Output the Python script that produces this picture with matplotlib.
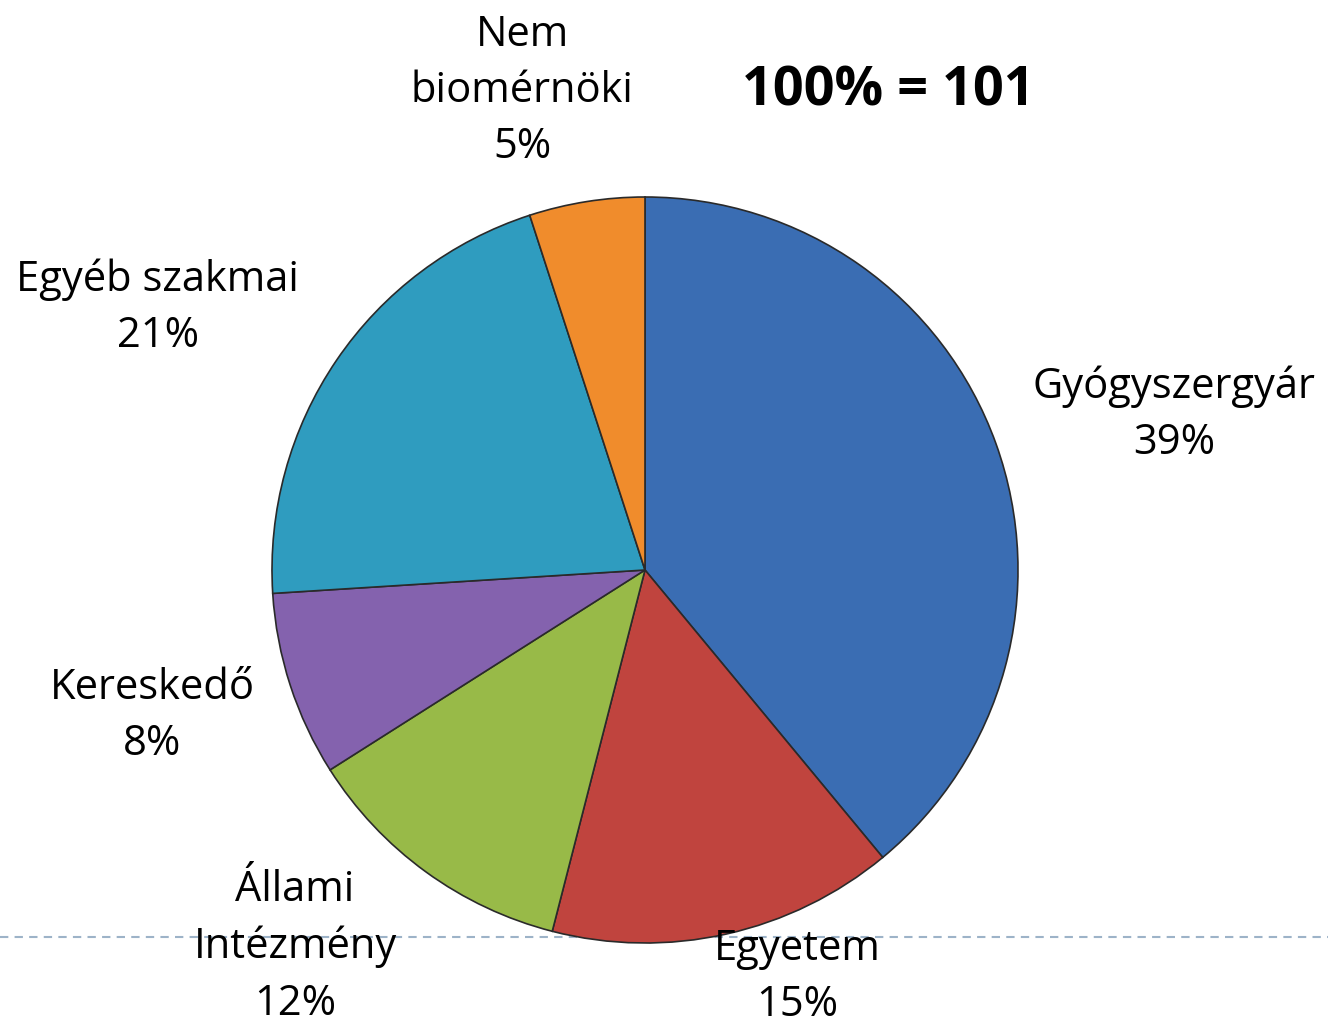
import matplotlib.pyplot as plt

categories = ["Gyógyszergyár", "Egyetem", "Állami\nIntézmény", "Kereskedő",
              "Egyéb szakmai", "Nem\nbiomérnöki"]
shares = [39, 15, 12, 8, 21, 5]
colors = ["#3A6DB3", "#C0443E", "#98BA48", "#8462AE", "#2F9CBF", "#F08C2C"]
total = 101

# label anchor positions in pixels (centre of text block)
label_pos = [(1174, 415), (797, 977), (295, 947), (152, 716), (158, 308), (522, 91)]

plt.rcParams['font.family'] = ['Open Sans', 'DejaVu Sans']

fig = plt.figure(figsize=(13.28, 10.25), dpi=100)
ax = fig.add_axes([0, 0, 1, 1])

ax.plot([0, 1328], [937, 937], ls=(0, (4, 3)), color="#9DB3C8", lw=1.5, zorder=0)

# y axis is inverted below, so startangle=-90 is the top and the wedges run clockwise
ax.pie(shares, colors=colors, startangle=-90, counterclock=True,
       center=(645, 570), radius=373, frame=True,
       wedgeprops=dict(edgecolor="#2a2a2a", linewidth=1.2))
ax.set_xlim(0, 1328)
ax.set_ylim(1025, 0)
ax.set_aspect('equal')
ax.axis('off')

for name, val, (x, y) in zip(categories, shares, label_pos):
    ax.text(x, y, f"{name}\n{val}%", ha='center', va='center', fontsize=30,
            linespacing=1.45, color='black', zorder=5)

ax.text(888, 92, f"100% = {total}", ha='center', va='center', fontsize=39,
        fontweight='bold')

fig.savefig("out.png", dpi=100)
